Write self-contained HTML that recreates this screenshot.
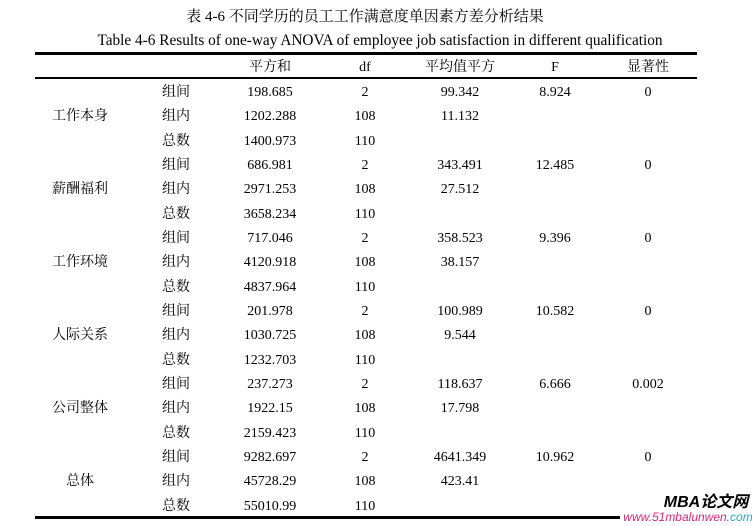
<!DOCTYPE html>
<html><head><meta charset="utf-8"><style>
body{margin:0;width:752px;height:524px;background:#fff;position:relative;overflow:hidden;font-family:"Liberation Serif","Noto Serif CJK SC",serif;color:#000}
.t{position:absolute;white-space:nowrap;font-size:14px;line-height:16px;height:16px;transform:translate(-50%,-50%)}
.r{position:absolute;background:#000;left:35px;width:662px}
</style></head><body>
<div class="t" style="left:365px;top:17px;font-size:15px">表 4-6 不同学历的员工工作满意度单因素方差分析结果</div>
<div class="t" style="left:380px;top:41px;font-size:15.3px">Table 4-6 Results of one-way ANOVA of employee job satisfaction in different qualification</div>
<div class="r" style="top:52px;height:3px"></div>
<div class="r" style="top:77px;height:2px"></div>
<div class="r" style="top:516px;height:3px;width:585px"></div>
<div id="c"></div>
<div class="t" style="left:706px;top:503px;font:italic bold 16px 'Liberation Sans','Noto Sans CJK SC',sans-serif;line-height:18px;height:18px">MBA论文网</div>
<div class="t" style="left:688px;top:518px;font:italic 12px 'Liberation Sans',sans-serif;color:#d0287a">www.51mbalunwen.<span style="color:#2aa8c8">com</span></div>
<script>
var c=document.getElementById('c'),h='';
function t(x,y,s){h+='<div class="t" style="left:'+x+'px;top:'+y+'px">'+s+'</div>';}
var hx=[270,365,460,555,648],hd=['平方和','df','平均值平方','F','显著性'];
for(var i=0;i<5;i++)t(hx[i],68,hd[i]);
var g=['工作本身','薪酬福利','工作环境','人际关系','公司整体','总体'];
var d=[[['198.685','2','99.342','8.924','0'],['1202.288','108','11.132'],['1400.973','110']],
[['686.981','2','343.491','12.485','0'],['2971.253','108','27.512'],['3658.234','110']],
[['717.046','2','358.523','9.396','0'],['4120.918','108','38.157'],['4837.964','110']],
[['201.978','2','100.989','10.582','0'],['1030.725','108','9.544'],['1232.703','110']],
[['237.273','2','118.637','6.666','0.002'],['1922.15','108','17.798'],['2159.423','110']],
[['9282.697','2','4641.349','10.962','0'],['45728.29','108','423.41'],['55010.99','110']]];
var sub=['组间','组内','总数'];
for(var k=0;k<6;k++){for(var j=0;j<3;j++){var y=93+(k*3+j)*24.33;t(176,y,sub[j]);
 for(var m=0;m<d[k][j].length;m++)t(hx[m],y,d[k][j][m]);
 if(j==1)t(80,y,g[k]);}}
c.innerHTML=h;
</script>
</body></html>
